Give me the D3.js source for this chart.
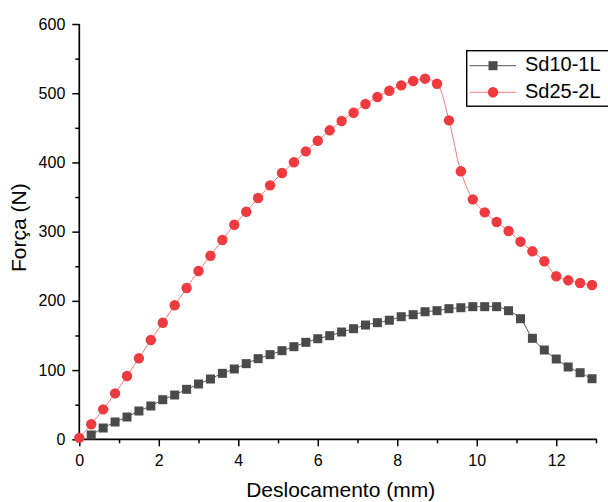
<!DOCTYPE html>
<html>
<head>
<meta charset="utf-8">
<script src="https://cdn.jsdelivr.net/npm/d3@7"></script>
<style>
  html, body { margin: 0; padding: 0; background: #fff; }
  svg { display: block; font-family: Arial, "Liberation Sans", sans-serif; }
</style>
</head>
<body>
<svg id="chart" width="608" height="502"></svg>
<script>
// ---- data ----
const seriesNames = ["Sd10-1L", "Sd25-2L"];
const dispRed = [0, 0.3, 0.6, 0.9, 1.2, 1.5, 1.8, 2.1, 2.4, 2.7, 3.0, 3.3, 3.6, 3.9, 4.2, 4.5, 4.8, 5.1, 5.4, 5.7, 6.0, 6.3, 6.6, 6.9, 7.2, 7.5, 7.8, 8.1, 8.4, 8.7, 9.0, 9.3, 9.6, 9.9, 10.2, 10.5, 10.8, 11.1, 11.4, 11.7, 12.0, 12.3, 12.6, 12.9];
const forceSd25 = [2, 21.7, 43.3, 66.4, 91.4, 117, 143.5, 168.4, 193.6, 218.6, 243.1, 265.2, 287.9, 310, 328.8, 348.6, 366.9, 384.7, 400.2, 416, 431.4, 446.4, 459.8, 471.8, 484.4, 494.5, 503.6, 511.4, 517.6, 521, 513.7, 460.8, 387.2, 346.7, 327.9, 313.9, 300.9, 285.5, 271.6, 257.2, 235.5, 229.7, 225.8, 222.9];
const dispGray = [0.3, 0.6, 0.9, 1.2, 1.5, 1.8, 2.1, 2.4, 2.7, 3.0, 3.3, 3.6, 3.9, 4.2, 4.5, 4.8, 5.1, 5.4, 5.7, 6.0, 6.3, 6.6, 6.9, 7.2, 7.5, 7.8, 8.1, 8.4, 8.7, 9.0, 9.3, 9.6, 9.9, 10.2, 10.5, 10.8, 11.1, 11.4, 11.7, 12.0, 12.3, 12.6, 12.9];
const forceSd10 = [6.2, 16.3, 25, 32.2, 40.9, 48.1, 57.2, 64, 72.2, 79.9, 87.1, 95.3, 101.6, 109.3, 116.5, 122.3, 128, 133.8, 140.1, 145.3, 149.7, 155, 159.8, 165.1, 168.5, 172, 177.1, 180, 184.3, 185.8, 188.7, 190.1, 191.6, 191.6, 191.6, 185.8, 174.2, 145.9, 129, 116, 104.5, 96.2, 87.5];
const xTicks = [0, 2, 4, 6, 8, 10, 12];
const xMinorTicks = [1, 3, 5, 7, 9, 11, 13];
const yTicks = [0, 100, 200, 300, 400, 500, 600];
const yMinorTicks = [50, 150, 250, 350, 450, 550];
const xTitle = "Deslocamento (mm)";
const yTitle = "Força (N)";

(function () {
// ---- layout ----
const svg = d3.select("#chart");
const pL = 79.3, pR = 596, pT = 24, pB = 439.3;
const x = d3.scaleLinear().domain([0, 13]).range([pL, pR]);
const y = d3.scaleLinear().domain([0, 600]).range([pB, pT]);

const axisColor = "#000";
const grayColor = "#4a4a4a";
const redColor = "#ef3b3f";

// axes
const gx = svg.append("g").attr("transform", `translate(0,${pB})`);
gx.call(d3.axisBottom(x).tickValues(xTicks).tickSize(7).tickPadding(8).tickFormat(d3.format("d")));
const gxm = svg.append("g").attr("transform", `translate(0,${pB})`);
gxm.call(d3.axisBottom(x).tickValues(xMinorTicks).tickSize(4).tickFormat(""));
const gy = svg.append("g").attr("transform", `translate(${pL},0)`);
gy.call(d3.axisLeft(y).tickValues(yTicks).tickSize(7).tickPadding(7).tickFormat(d3.format("d")));
const gym = svg.append("g").attr("transform", `translate(${pL},0)`);
gym.call(d3.axisLeft(y).tickValues(yMinorTicks).tickSize(4).tickFormat(""));
gxm.select(".domain").remove();
gym.select(".domain").remove();

svg.selectAll(".domain").attr("stroke", axisColor).attr("stroke-width", 1.7);
svg.selectAll(".tick line").attr("stroke", axisColor).attr("stroke-width", 1.5);
svg.selectAll(".tick text").attr("font-size", 16).attr("fill", "#000")
  .attr("font-family", "Arial, 'Liberation Sans', sans-serif");
gx.select(".domain").attr("d", `M${pL},0H${pR + 1}`);
gy.select(".domain").attr("d", `M0,${pB}V${pT}`);

// titles
svg.append("text").attr("x", (pL + pR) / 2 + 3).attr("y", 497)
  .attr("text-anchor", "middle").attr("font-size", 21).attr("fill", "#000").text(xTitle);
svg.append("text").attr("transform", `translate(26,${(pT + pB) / 2 - 4}) rotate(-90)`)
  .attr("text-anchor", "middle").attr("font-size", 21).attr("fill", "#000").text(yTitle);

// clip
svg.append("clipPath").attr("id", "clip").append("rect")
  .attr("x", 0).attr("y", 0).attr("width", 597.5).attr("height", 502);
const plot = svg.append("g").attr("clip-path", "url(#clip)");

const grayData = dispGray.map((d, i) => [d, forceSd10[i]]);
const redData = dispRed.map((d, i) => [d, forceSd25[i]]);
const line = d3.line().x(d => x(d[0])).y(d => y(d[1])).curve(d3.curveCatmullRom.alpha(0.5));

plot.append("path").datum(grayData).attr("d", line).attr("fill", "none")
  .attr("stroke", "#555").attr("stroke-width", 1);
plot.selectAll("rect.sq").data(grayData).enter().append("rect").attr("class", "sq")
  .attr("x", d => x(d[0]) - 4.5).attr("y", d => y(d[1]) - 4.5)
  .attr("width", 9).attr("height", 9).attr("fill", grayColor);

plot.append("path").datum(redData).attr("d", line).attr("fill", "none")
  .attr("stroke", "#f07a7a").attr("stroke-width", 1);
plot.selectAll("circle.dot").data(redData).enter().append("circle").attr("class", "dot")
  .attr("cx", d => x(d[0])).attr("cy", d => y(d[1])).attr("r", 5.2).attr("fill", redColor);

// legend
const lg = svg.append("g");
lg.append("rect").attr("x", 466.7).attr("y", 50.7).attr("width", 150).attr("height", 55.5)
  .attr("fill", "#fff").attr("stroke", "#000").attr("stroke-width", 1.4);
const rows = [{name: seriesNames[0], cy: 65.7, color: "#555", mark: "sq"},
              {name: seriesNames[1], cy: 92.3, color: "#f07a7a", mark: "dot"}];
rows.forEach(r => {
  lg.append("line").attr("x1", 469.5).attr("x2", 516).attr("y1", r.cy).attr("y2", r.cy)
    .attr("stroke", r.color).attr("stroke-width", 1);
  if (r.mark === "sq") {
    lg.append("rect").attr("x", 493 - 4.5).attr("y", r.cy - 4.5).attr("width", 9).attr("height", 9).attr("fill", grayColor);
  } else {
    lg.append("circle").attr("cx", 493).attr("cy", r.cy).attr("r", 5.2).attr("fill", redColor);
  }
  lg.append("text").attr("x", 525).attr("y", r.cy + 5.5).attr("font-size", 20).attr("fill", "#000").text(r.name);
});
})();
</script>
</body>
</html>
